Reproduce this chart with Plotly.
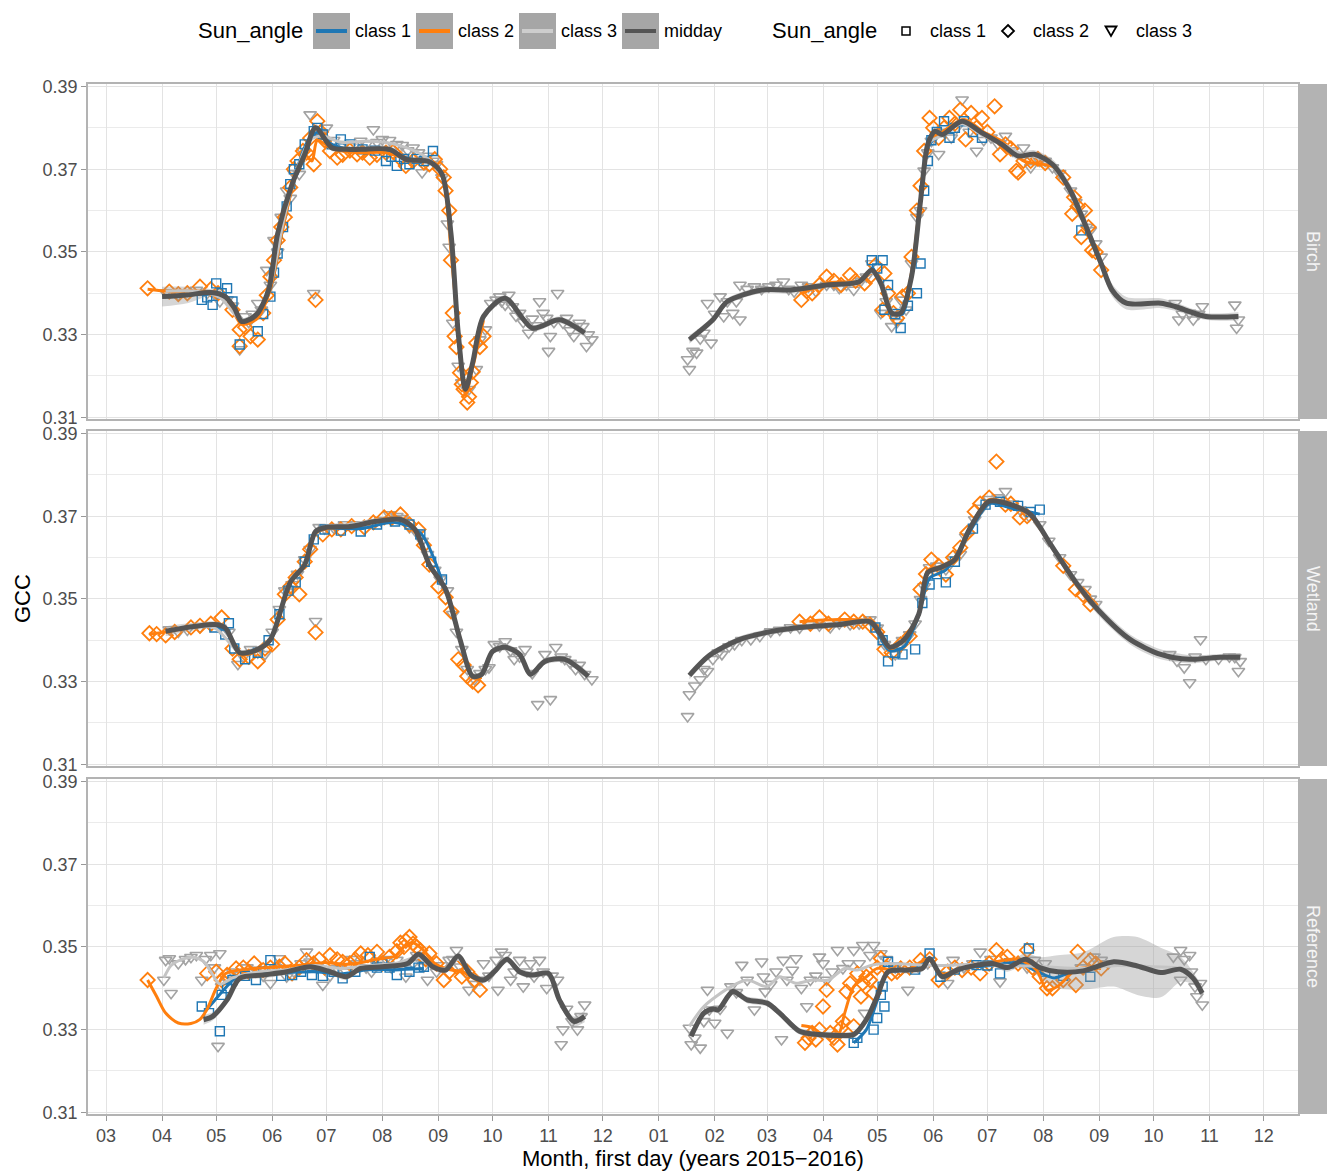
import pandas as pd
import plotly.graph_objects as go
from plotly.subplots import make_subplots

# ---------------- data (day offsets from 2015-03-01, GCC values) ----------------
BASE = "2015-03-01"
panels = ["Birch", "Wetland", "Reference"]

# ---- Birch 2015 ----
birch15_mid_d = [31, 45, 58, 66, 71, 75, 80, 84, 90, 95, 103, 110, 116, 125, 133, 141, 157, 166, 179, 186, 191, 195, 199, 203, 209, 221, 236, 251, 265]
birch15_mid_v = [0.3392, 0.3396, 0.3402, 0.3392, 0.3365, 0.3332, 0.3338, 0.3352, 0.3408, 0.3544, 0.3664, 0.3736, 0.3800, 0.3752, 0.3748, 0.3748, 0.3748, 0.3724, 0.3718, 0.3688, 0.3544, 0.3304, 0.3168, 0.3232, 0.3344, 0.3388, 0.3316, 0.3336, 0.3304]
birch15_mid_se = [0.0024, 0.0020, 0.0008, 0.0008, 0.0008, 0.0008, 0.0008, 0.0008, 0.0008, 0.0008, 0.0008, 0.0008, 0.0010, 0.0008, 0.0008, 0.0008, 0.0008, 0.0008, 0.0008, 0.0008, 0.0010, 0.0010, 0.0010, 0.0010, 0.0008, 0.0008, 0.0008, 0.0008, 0.0010]
birch15_l1_d = [53, 61, 67, 75, 84, 91, 98, 105, 112, 118, 125, 140, 155, 168, 181]
birch15_l1_v = [0.3395, 0.3400, 0.3390, 0.3335, 0.3350, 0.3410, 0.3560, 0.3690, 0.3770, 0.3790, 0.3760, 0.3745, 0.3745, 0.3725, 0.3720]
birch15_l2_d = [23, 35, 52, 66, 75, 84, 91, 98, 105, 110, 114, 117, 125, 140, 155, 170, 182, 187, 191, 195, 199, 203, 209]
birch15_l2_v = [0.3410, 0.3405, 0.3405, 0.3390, 0.3325, 0.3340, 0.3410, 0.3560, 0.3685, 0.3735, 0.3720, 0.3770, 0.3750, 0.3740, 0.3740, 0.3720, 0.3715, 0.3670, 0.3500, 0.3310, 0.3155, 0.3220, 0.3335]
birch15_l3_d = [33, 50, 63, 75, 84, 91, 98, 105, 113, 120, 130, 145, 160, 175, 186, 191, 195, 199, 203, 209, 221, 236, 251, 266]
birch15_l3_v = [0.3405, 0.3405, 0.3390, 0.3335, 0.3355, 0.3420, 0.3570, 0.3690, 0.3770, 0.3780, 0.3765, 0.3768, 0.3760, 0.3735, 0.3690, 0.3520, 0.3315, 0.3180, 0.3235, 0.3340, 0.3385, 0.3320, 0.3335, 0.3305]
birch15_p1_d = [53, 59, 61, 67, 74, 84, 91, 95, 98, 102, 107, 115, 120, 130, 142, 155, 161, 168, 181,
                56, 64, 70, 87, 93, 100, 104, 110, 117, 125, 135, 149, 158, 165, 172, 176]
birch15_p1_v = [0.3384, 0.3372, 0.3424, 0.3412, 0.3276, 0.3308, 0.3392, 0.3496, 0.3560, 0.3664, 0.3712, 0.3792, 0.3784, 0.3772, 0.3748, 0.3720, 0.3708, 0.3712, 0.3744,
                0.3390, 0.3400, 0.3380, 0.3350, 0.3450, 0.3610, 0.3700, 0.3760, 0.3800, 0.3760, 0.3760, 0.3745, 0.3730, 0.3725, 0.3725, 0.3720]
birch15_p2_d = [23, 35, 52, 74, 74, 80, 84, 87, 91, 95, 99, 102, 106, 109, 115, 116, 117, 124, 128, 139, 146, 155, 166, 176, 182, 188, 190, 191, 192, 193, 196, 198, 200, 202, 205, 209,
                40, 45, 58, 62, 70, 77, 89, 93, 97, 104, 111, 113, 119, 121, 131, 135, 142, 150, 159, 163, 170, 179, 185, 187, 194, 197, 201, 203, 207]
birch15_p2_v = [0.3412, 0.3404, 0.3416, 0.3312, 0.3272, 0.3296, 0.3288, 0.3352, 0.3440, 0.3528, 0.3584, 0.3656, 0.3720, 0.3744, 0.3712, 0.3384, 0.3816, 0.3744, 0.3728, 0.3736, 0.3728, 0.3740, 0.3708, 0.3716, 0.3724, 0.3648, 0.3600, 0.3480, 0.3352, 0.3296, 0.3208, 0.3168, 0.3136, 0.3184, 0.3280, 0.3296,
                0.3398, 0.3400, 0.3410, 0.3400, 0.3360, 0.3318, 0.3395, 0.3480, 0.3560, 0.3700, 0.3740, 0.3775, 0.3790, 0.3770, 0.3735, 0.3745, 0.3740, 0.3735, 0.3742, 0.3725, 0.3720, 0.3712, 0.3700, 0.3680, 0.3270, 0.3180, 0.3150, 0.3210, 0.3270]
birch15_p3_d = [33, 50, 63, 74, 77, 84, 89, 93, 97, 100, 107, 109, 113, 115, 122, 131, 141, 148, 153, 161, 170, 175, 181, 186, 189, 190, 192, 195, 197, 201, 205, 207, 210, 213, 216, 218, 223, 229, 234, 240, 242, 245, 246, 250, 253, 259, 262, 266, 269,
                118, 126, 135, 144, 150, 157, 164, 167, 173, 178, 183, 91, 95, 102, 104, 219, 221, 225, 227, 231, 236, 238, 244, 248, 255, 257, 264, 267, 40, 56, 60, 67, 70, 79, 81, 86]
birch15_p3_v = [0.3402, 0.3408, 0.3380, 0.3264, 0.3344, 0.3376, 0.3456, 0.3528, 0.3584, 0.3648, 0.3688, 0.3744, 0.3832, 0.3400, 0.3800, 0.3760, 0.3768, 0.3796, 0.3772, 0.3760, 0.3752, 0.3692, 0.3720, 0.3680, 0.3568, 0.3512, 0.3328, 0.3224, 0.3184, 0.3168, 0.3216, 0.3288, 0.3312, 0.3376, 0.3384, 0.3392, 0.3396, 0.3352, 0.3304, 0.3380, 0.3352, 0.3260, 0.3296, 0.3400, 0.3328, 0.3296, 0.3328, 0.3272, 0.3288,
                0.3790, 0.3770, 0.3755, 0.3760, 0.3765, 0.3770, 0.3758, 0.3745, 0.3740, 0.3732, 0.3712, 0.3420, 0.3500, 0.3630, 0.3690, 0.3380, 0.3372, 0.3368, 0.3345, 0.3330, 0.3338, 0.3322, 0.3340, 0.3330, 0.3340, 0.3310, 0.3320, 0.3300, 0.3395, 0.3400, 0.3398, 0.3385, 0.3370, 0.3330, 0.3350, 0.3360]

# ---- Birch 2016 ----
birch16_mid_d = [323, 336, 344, 363, 379, 399, 417, 424, 429, 435, 440, 446, 451, 455, 459, 463, 474, 485, 496, 505, 514, 524, 534, 542, 551, 557, 565, 584, 592, 609, 627]
birch16_mid_v = [0.3288, 0.3336, 0.3380, 0.3408, 0.3408, 0.3420, 0.3428, 0.3456, 0.3424, 0.3352, 0.3352, 0.3440, 0.3624, 0.3760, 0.3792, 0.3784, 0.3816, 0.3788, 0.3760, 0.3732, 0.3736, 0.3712, 0.3648, 0.3568, 0.3472, 0.3408, 0.3376, 0.3376, 0.3368, 0.3344, 0.3344]
birch16_mid_se = [0.0010, 0.0008, 0.0008, 0.0008, 0.0008, 0.0008, 0.0008, 0.0008, 0.0008, 0.0008, 0.0008, 0.0008, 0.0008, 0.0008, 0.0008, 0.0008, 0.0008, 0.0008, 0.0008, 0.0010, 0.0010, 0.0012, 0.0015, 0.0015, 0.0015, 0.0015, 0.0015, 0.0012, 0.0010, 0.0008, 0.0010]
birch16_l1_d = [424, 430, 436, 441, 446, 451, 456, 464, 475, 485]
birch16_l1_v = [0.3465, 0.3420, 0.3350, 0.3350, 0.3440, 0.3620, 0.3760, 0.3790, 0.3810, 0.3790]
birch16_l2_d = [385, 400, 417, 425, 430, 436, 441, 446, 451, 456, 463, 475, 486, 497, 508, 525, 535, 543, 551]
birch16_l2_v = [0.3400, 0.3425, 0.3430, 0.3450, 0.3420, 0.3350, 0.3360, 0.3450, 0.3630, 0.3770, 0.3790, 0.3820, 0.3790, 0.3765, 0.3720, 0.3705, 0.3640, 0.3560, 0.3470]
birch16_l3_d = [323, 336, 344, 363, 380, 400, 417, 424, 430, 436, 441, 446, 451, 456, 462, 474, 486, 497, 508, 515, 525, 535, 543, 551, 558, 566, 585, 593, 610, 627]
birch16_l3_v = [0.3285, 0.3335, 0.3380, 0.3405, 0.3410, 0.3420, 0.3430, 0.3450, 0.3420, 0.3350, 0.3360, 0.3440, 0.3620, 0.3765, 0.3780, 0.3810, 0.3780, 0.3760, 0.3735, 0.3730, 0.3710, 0.3645, 0.3565, 0.3470, 0.3405, 0.3375, 0.3375, 0.3365, 0.3345, 0.3345]
birch16_p1_d = [424, 430, 431, 440, 449, 451, 453, 455, 464, 467, 475, 485, 540,
                427, 433, 437, 444, 457, 460, 470, 480]
birch16_p1_v = [0.3480, 0.3480, 0.3360, 0.3316, 0.3400, 0.3472, 0.3648, 0.3720, 0.3816, 0.3776, 0.3816, 0.3776, 0.3552,
                0.3460, 0.3420, 0.3350, 0.3370, 0.3770, 0.3790, 0.3800, 0.3790]
birch16_p2_d = [385, 391, 399, 412, 420, 426, 431, 430, 436, 441, 446, 449, 453, 456, 461, 467, 473, 476, 479, 485, 492, 495, 504, 505, 512, 536, 535, 540, 542, 546, 551,
                388, 395, 403, 407, 415, 423, 433, 438, 444, 451, 458, 464, 470, 482, 488, 498, 501, 508, 516, 520, 530, 538, 544, 548]
birch16_p2_v = [0.3384, 0.3400, 0.3440, 0.3444, 0.3424, 0.3468, 0.3448, 0.3360, 0.3352, 0.3392, 0.3488, 0.3600, 0.3744, 0.3824, 0.3776, 0.3824, 0.3844, 0.3772, 0.3836, 0.3824, 0.3852, 0.3736, 0.3696, 0.3692, 0.3720, 0.3632, 0.3592, 0.3536, 0.3600, 0.3504, 0.3456,
                0.3405, 0.3420, 0.3430, 0.3420, 0.3430, 0.3440, 0.3400, 0.3340, 0.3400, 0.3660, 0.3800, 0.3800, 0.3810, 0.3800, 0.3790, 0.3760, 0.3750, 0.3720, 0.3725, 0.3715, 0.3680, 0.3610, 0.3560, 0.3500]
birch16_p3_d = [322, 323, 327, 331, 333, 335, 340, 342, 347, 351, 351, 359, 367, 375, 381, 389, 399, 406, 414, 424, 429, 435, 440, 446, 449, 453, 457, 461, 468, 474, 482, 490, 498, 508, 512, 517, 524, 534, 540, 545, 551, 592, 594, 600, 602, 607, 625, 626, 627,
                325, 329, 337, 344, 349, 355, 363, 371, 378, 385, 393, 403, 410, 418, 421, 432, 438, 443, 451, 455, 464, 471, 478, 486, 494, 502, 520, 528, 537, 543, 548, 596, 605]
birch16_p3_v = [0.3240, 0.3216, 0.3256, 0.3304, 0.3376, 0.3280, 0.3392, 0.3344, 0.3352, 0.3420, 0.3336, 0.3416, 0.3416, 0.3428, 0.3404, 0.3416, 0.3420, 0.3412, 0.3408, 0.3472, 0.3352, 0.3320, 0.3384, 0.3472, 0.3584, 0.3696, 0.3768, 0.3736, 0.3776, 0.3868, 0.3744, 0.3776, 0.3780, 0.3752, 0.3704, 0.3720, 0.3704, 0.3648, 0.3592, 0.3552, 0.3488, 0.3376, 0.3336, 0.3352, 0.3336, 0.3368, 0.3372, 0.3316, 0.3336,
                0.3260, 0.3290, 0.3350, 0.3380, 0.3380, 0.3410, 0.3410, 0.3420, 0.3410, 0.3420, 0.3405, 0.3420, 0.3420, 0.3430, 0.3440, 0.3380, 0.3330, 0.3360, 0.3600, 0.3740, 0.3790, 0.3800, 0.3790, 0.3770, 0.3760, 0.3745, 0.3720, 0.3690, 0.3620, 0.3560, 0.3520, 0.3350, 0.3350]

# ---- Wetland 2015 ----
wet15_mid_d = [33, 60, 66, 74, 84, 91, 102, 110, 116, 122, 135, 149, 163, 171, 179, 188, 196, 203, 208, 214, 221, 229, 235, 243, 254, 267]
wet15_mid_v = [0.3422, 0.3438, 0.3430, 0.3370, 0.3378, 0.3402, 0.3540, 0.3583, 0.3663, 0.3673, 0.3675, 0.3687, 0.3692, 0.3668, 0.3583, 0.3523, 0.3402, 0.3313, 0.3318, 0.3373, 0.3383, 0.3366, 0.3318, 0.3349, 0.3354, 0.3313]
wet15_mid_se = [0.0012, 0.0008, 0.0008, 0.0008, 0.0008, 0.0008, 0.0008, 0.0008, 0.0008, 0.0008, 0.0008, 0.0008, 0.0008, 0.0008, 0.0008, 0.0008, 0.0008, 0.0008, 0.0008, 0.0008, 0.0008, 0.0008, 0.0008, 0.0008, 0.0008, 0.0010]
wet15_l1_d = [60, 66, 74, 84, 91, 102, 110, 116, 122, 141, 160, 174, 186]
wet15_l1_v = [0.3430, 0.3425, 0.3370, 0.3380, 0.3400, 0.3540, 0.3580, 0.3660, 0.3670, 0.3670, 0.3685, 0.3660, 0.3545]
wet15_l2_d = [24, 33, 60, 66, 74, 84, 91, 102, 110, 116, 122, 135, 149, 163, 171, 179, 188, 196, 203, 208]
wet15_l2_v = [0.3415, 0.3420, 0.3440, 0.3430, 0.3365, 0.3375, 0.3400, 0.3540, 0.3580, 0.3660, 0.3670, 0.3675, 0.3690, 0.3695, 0.3670, 0.3580, 0.3520, 0.3405, 0.3310, 0.3310]
wet15_l3_d = [35, 60, 74, 84, 91, 102, 110, 116, 122, 135, 149, 163, 171, 179, 188, 196, 203, 208, 214, 221, 229, 235, 243, 254, 267]
wet15_l3_v = [0.3425, 0.3430, 0.3370, 0.3380, 0.3405, 0.3545, 0.3585, 0.3660, 0.3675, 0.3680, 0.3690, 0.3690, 0.3668, 0.3585, 0.3520, 0.3400, 0.3315, 0.3320, 0.3375, 0.3380, 0.3365, 0.3320, 0.3350, 0.3355, 0.3315]
wet15_p1_d = [60, 66, 68, 77, 96, 105, 115, 121, 141, 160, 174, 186,
              71, 84, 90, 101, 110, 130, 150, 168, 180]
wet15_p1_v = [0.3431, 0.3414, 0.3441, 0.3354, 0.3463, 0.3540, 0.3644, 0.3668, 0.3663, 0.3687, 0.3656, 0.3547,
              0.3380, 0.3370, 0.3400, 0.3520, 0.3590, 0.3665, 0.3680, 0.3680, 0.3590]
wet15_p2_d = [24, 33, 47, 64, 74, 84, 92, 99, 105, 107, 116, 120, 130, 143, 154, 163, 173, 179, 188, 195, 200, 206,
              28, 38, 52, 58, 70, 79, 88, 95, 102, 110, 113, 125, 136, 148, 158, 168, 176, 184, 191, 198, 203]
wet15_p2_v = [0.3417, 0.3412, 0.3431, 0.3455, 0.3354, 0.3349, 0.3390, 0.3511, 0.3552, 0.3511, 0.3419, 0.3656, 0.3668, 0.3673, 0.3697, 0.3704, 0.3668, 0.3583, 0.3504, 0.3354, 0.3313, 0.3291,
              0.3415, 0.3420, 0.3435, 0.3440, 0.3380, 0.3360, 0.3380, 0.3450, 0.3530, 0.3590, 0.3620, 0.3668, 0.3676, 0.3685, 0.3695, 0.3680, 0.3630, 0.3530, 0.3470, 0.3340, 0.3300]
wet15_p3_d = [35, 52, 73, 80, 88, 96, 103, 110, 116, 118, 132, 146, 157, 168, 178, 185, 192, 197, 204, 212, 215, 221, 226, 232, 239, 243, 246, 249, 254, 260, 265, 269,
              40, 45, 58, 63, 68, 76, 84, 92, 99, 106, 113, 121, 126, 139, 152, 161, 164, 172, 175, 182, 189, 194, 200, 207, 210, 218, 224, 229, 236, 252, 257, 262]
wet15_p3_v = [0.3426, 0.3431, 0.3342, 0.3378, 0.3366, 0.3475, 0.3535, 0.3595, 0.3446, 0.3673, 0.3680, 0.3682, 0.3704, 0.3673, 0.3608, 0.3547, 0.3463, 0.3378, 0.3305, 0.3334, 0.3390, 0.3397, 0.3354, 0.3378, 0.3245, 0.3366, 0.3257, 0.3383, 0.3354, 0.3330, 0.3318, 0.3305,
              0.3420, 0.3425, 0.3435, 0.3430, 0.3420, 0.3360, 0.3370, 0.3420, 0.3520, 0.3560, 0.3620, 0.3670, 0.3672, 0.3680, 0.3690, 0.3700, 0.3695, 0.3660, 0.3640, 0.3570, 0.3520, 0.3420, 0.3330, 0.3320, 0.3330, 0.3385, 0.3375, 0.3360, 0.3320, 0.3360, 0.3345, 0.3340]

# ---- Wetland 2016 ----
wet16_mid_d = [323, 334, 351, 368, 384, 406, 423, 429, 434, 442, 450, 455, 462, 470, 478, 489, 501, 512, 523, 537, 550, 567, 584, 600, 617, 628]
wet16_mid_v = [0.3315, 0.3363, 0.3402, 0.3421, 0.3431, 0.3438, 0.3445, 0.3414, 0.3383, 0.3402, 0.3463, 0.3564, 0.3576, 0.3595, 0.3668, 0.3736, 0.3728, 0.3704, 0.3632, 0.3540, 0.3470, 0.3402, 0.3366, 0.3354, 0.3359, 0.3359]
wet16_mid_se = [0.0010, 0.0008, 0.0008, 0.0008, 0.0008, 0.0008, 0.0008, 0.0008, 0.0008, 0.0008, 0.0008, 0.0008, 0.0008, 0.0008, 0.0008, 0.0008, 0.0008, 0.0008, 0.0010, 0.0012, 0.0012, 0.0012, 0.0012, 0.0010, 0.0008, 0.0010]
wet16_l1_d = [426, 434, 442, 450, 456, 465, 478, 489, 501, 517]
wet16_l1_v = [0.3430, 0.3375, 0.3385, 0.3460, 0.3550, 0.3570, 0.3660, 0.3730, 0.3720, 0.3705]
wet16_l2_d = [384, 406, 423, 429, 434, 442, 450, 455, 462, 470, 478, 489, 501, 512, 523, 537, 545]
wet16_l2_v = [0.3445, 0.3450, 0.3445, 0.3410, 0.3380, 0.3400, 0.3465, 0.3570, 0.3578, 0.3600, 0.3670, 0.3740, 0.3728, 0.3700, 0.3630, 0.3535, 0.3490]
wet16_l3_d = [323, 334, 351, 368, 384, 406, 423, 429, 434, 442, 450, 455, 462, 470, 478, 489, 501, 512, 523, 537, 550, 567, 584, 600, 617, 628]
wet16_l3_v = [0.3315, 0.3362, 0.3400, 0.3420, 0.3430, 0.3438, 0.3445, 0.3414, 0.3385, 0.3402, 0.3463, 0.3562, 0.3575, 0.3595, 0.3668, 0.3735, 0.3728, 0.3705, 0.3633, 0.3540, 0.3470, 0.3400, 0.3366, 0.3354, 0.3359, 0.3359]
wet16_p1_d = [426, 433, 441, 448, 456, 465, 487, 517,
              430, 437, 452, 460, 470, 480, 495, 505, 512]
wet16_p1_v = [0.3431, 0.3349, 0.3366, 0.3378, 0.3535, 0.3540, 0.3728, 0.3716,
              0.3400, 0.3370, 0.3490, 0.3560, 0.3590, 0.3670, 0.3735, 0.3725, 0.3710]
wet16_p2_d = [384, 395, 409, 423, 431, 440, 451, 457, 465, 473, 481, 489, 493, 498, 506, 537, 545,
              390, 400, 414, 419, 427, 435, 445, 454, 461, 469, 477, 484, 501, 510, 530, 541]
wet16_p2_v = [0.3445, 0.3455, 0.3450, 0.3438, 0.3378, 0.3390, 0.3523, 0.3595, 0.3559, 0.3624, 0.3711, 0.3745, 0.3832, 0.3728, 0.3697, 0.3523, 0.3487,
              0.3440, 0.3440, 0.3445, 0.3445, 0.3420, 0.3370, 0.3410, 0.3560, 0.3580, 0.3600, 0.3660, 0.3730, 0.3730, 0.3700, 0.3580, 0.3510]
wet16_p3_d = [322, 323, 329, 333, 336, 341, 348, 357, 368, 379, 390, 401, 412, 423, 431, 437, 445, 451, 456, 465, 473, 481, 489, 498, 506, 517, 534, 542, 548, 589, 597, 600, 606, 609, 625, 627, 628,
              326, 331, 339, 345, 352, 362, 373, 384, 395, 406, 417, 427, 434, 441, 448, 453, 460, 469, 476, 485, 494, 502, 511, 522, 528, 538, 545, 593, 603, 616, 622]
wet16_p3_v = [0.3216, 0.3269, 0.3305, 0.3325, 0.3354, 0.3366, 0.3390, 0.3402, 0.3421, 0.3431, 0.3438, 0.3431, 0.3438, 0.3450, 0.3390, 0.3366, 0.3414, 0.3499, 0.3576, 0.3571, 0.3608, 0.3692, 0.3741, 0.3760, 0.3716, 0.3680, 0.3559, 0.3523, 0.3487, 0.3366, 0.3334, 0.3298, 0.3402, 0.3354, 0.3359, 0.3325, 0.3349,
              0.3290, 0.3330, 0.3370, 0.3385, 0.3400, 0.3410, 0.3425, 0.3430, 0.3435, 0.3440, 0.3440, 0.3430, 0.3380, 0.3400, 0.3440, 0.3530, 0.3580, 0.3595, 0.3650, 0.3720, 0.3745, 0.3730, 0.3700, 0.3640, 0.3600, 0.3540, 0.3500, 0.3350, 0.3360, 0.3355, 0.3360]

# ---- Reference 2015 ----
ref15_mid_d = [54, 59, 67, 74, 87, 100, 113, 124, 133, 141, 153, 167, 173, 181, 188, 195, 202, 209, 215, 222, 229, 236, 245, 251, 259, 265]
ref15_mid_v = [0.3324, 0.3332, 0.3372, 0.3424, 0.3432, 0.3440, 0.3452, 0.3440, 0.3428, 0.3448, 0.3452, 0.3460, 0.3482, 0.3452, 0.3444, 0.3478, 0.3432, 0.3420, 0.3440, 0.3470, 0.3440, 0.3432, 0.3436, 0.3372, 0.3320, 0.3332]
ref15_mid_se = [0.0012, 0.0010, 0.0008, 0.0008, 0.0008, 0.0008, 0.0008, 0.0008, 0.0008, 0.0008, 0.0008, 0.0008, 0.0008, 0.0008, 0.0008, 0.0008, 0.0008, 0.0008, 0.0008, 0.0008, 0.0008, 0.0008, 0.0008, 0.0010, 0.0012, 0.0014]
ref15_l1_d = [55, 60, 66, 72, 85, 100, 115, 130, 145, 160, 176]
ref15_l1_v = [0.3345, 0.3370, 0.3400, 0.3425, 0.3435, 0.3438, 0.3440, 0.3435, 0.3445, 0.3445, 0.3448]
ref15_l2_d = [23, 28, 33, 40, 47, 52, 56, 61, 66, 75, 90, 105, 120, 135, 150, 160, 166, 170, 175, 182, 190, 197, 207]
ref15_l2_v = [0.3420, 0.3380, 0.3340, 0.3316, 0.3315, 0.3325, 0.3350, 0.3400, 0.3435, 0.3445, 0.3450, 0.3455, 0.3462, 0.3458, 0.3470, 0.3478, 0.3505, 0.3510, 0.3495, 0.3460, 0.3445, 0.3440, 0.3415]
ref15_l3_d = [32, 36, 42, 48, 54, 58, 63, 70, 85, 100, 115, 130, 145, 160, 173, 181, 188, 195, 202, 209, 215, 222, 229, 236, 245, 251, 259, 265]
ref15_l3_v = [0.3425, 0.3455, 0.3470, 0.3475, 0.3465, 0.3440, 0.3410, 0.3425, 0.3440, 0.3445, 0.3455, 0.3448, 0.3455, 0.3460, 0.3475, 0.3450, 0.3448, 0.3470, 0.3435, 0.3420, 0.3445, 0.3470, 0.3445, 0.3435, 0.3438, 0.3375, 0.3320, 0.3330]
ref15_p1_d = [53, 63, 64, 70, 83, 91, 103, 114, 131, 146, 153, 161, 176,
              57, 67, 77, 87, 97, 108, 120, 126, 138, 150, 157, 168, 173]
ref15_p1_v = [0.3356, 0.3296, 0.3384, 0.3420, 0.3420, 0.3468, 0.3432, 0.3432, 0.3424, 0.3476, 0.3460, 0.3432, 0.3452,
              0.3340, 0.3400, 0.3430, 0.3440, 0.3430, 0.3440, 0.3430, 0.3440, 0.3440, 0.3450, 0.3450, 0.3440, 0.3450]
ref15_p2_d = [23, 56, 67, 72, 82, 87, 96, 103, 111, 124, 131, 141, 150, 157, 165, 168, 170, 174, 179, 187, 194, 197, 207,
              61, 64, 76, 79, 91, 99, 107, 115, 118, 121, 128, 135, 138, 145, 153, 161, 163, 166, 172, 177, 183, 190, 200, 204]
ref15_p2_v = [0.3420, 0.3436, 0.3432, 0.3448, 0.3460, 0.3444, 0.3452, 0.3436, 0.3468, 0.3480, 0.3464, 0.3484, 0.3488, 0.3476, 0.3500, 0.3524, 0.3508, 0.3492, 0.3484, 0.3420, 0.3452, 0.3428, 0.3396,
              0.3440, 0.3420, 0.3450, 0.3440, 0.3450, 0.3460, 0.3450, 0.3460, 0.3470, 0.3450, 0.3470, 0.3460, 0.3470, 0.3480, 0.3460, 0.3490, 0.3510, 0.3515, 0.3500, 0.3470, 0.3460, 0.3440, 0.3440, 0.3420]
ref15_p3_d = [32, 33, 35, 36, 50, 53, 58, 62, 63, 64, 74, 83, 91, 96, 100, 111, 113, 120, 128, 139, 150, 161, 166, 176, 178, 190, 194, 196, 201, 207, 209, 216, 217, 219, 224, 229, 231, 237, 240, 244, 250, 252, 253, 263, 265,
              40, 44, 47, 55, 60, 67, 70, 78, 87, 94, 104, 108, 117, 124, 133, 136, 144, 147, 155, 158, 170, 172, 183, 186, 192, 199, 204, 212, 221, 226, 233, 235, 242, 247, 255, 258, 261]
ref15_p3_v = [0.3420, 0.3468, 0.3472, 0.3388, 0.3480, 0.3420, 0.3480, 0.3260, 0.3484, 0.3404, 0.3432, 0.3444, 0.3412, 0.3472, 0.3428, 0.3488, 0.3464, 0.3408, 0.3448, 0.3460, 0.3456, 0.3468, 0.3428, 0.3452, 0.3420, 0.3468, 0.3492, 0.3452, 0.3396, 0.3420, 0.3460, 0.3468, 0.3396, 0.3488, 0.3420, 0.3468, 0.3404, 0.3428, 0.3468, 0.3400, 0.3420, 0.3264, 0.3300, 0.3332, 0.3360,
              0.3460, 0.3470, 0.3475, 0.3470, 0.3450, 0.3420, 0.3440, 0.3450, 0.3430, 0.3450, 0.3440, 0.3460, 0.3450, 0.3430, 0.3440, 0.3470, 0.3450, 0.3440, 0.3470, 0.3450, 0.3460, 0.3480, 0.3440, 0.3455, 0.3470, 0.3440, 0.3410, 0.3430, 0.3480, 0.3440, 0.3440, 0.3460, 0.3440, 0.3430, 0.3350, 0.3320, 0.3300]

# ---- Reference 2016 ----
ref16_mid_d = [324, 331, 336, 339, 347, 355, 366, 373, 384, 395, 406, 414, 421, 427, 433, 444, 452, 456, 463, 471, 482, 491, 499, 509, 517, 527, 541, 558, 571, 584, 595, 602, 607]
ref16_mid_v = [0.3284, 0.3340, 0.3350, 0.3348, 0.3392, 0.3372, 0.3364, 0.3340, 0.3296, 0.3288, 0.3286, 0.3288, 0.3324, 0.3380, 0.3440, 0.3444, 0.3448, 0.3472, 0.3428, 0.3444, 0.3456, 0.3460, 0.3450, 0.3470, 0.3450, 0.3440, 0.3442, 0.3464, 0.3454, 0.3438, 0.3446, 0.3424, 0.3388]
ref16_mid_se = [0.0010, 0.0008, 0.0008, 0.0008, 0.0008, 0.0008, 0.0008, 0.0008, 0.0008, 0.0008, 0.0008, 0.0008, 0.0008, 0.0008, 0.0008, 0.0008, 0.0008, 0.0008, 0.0008, 0.0008, 0.0008, 0.0008, 0.0010, 0.0015, 0.0025, 0.0040, 0.0045, 0.0060, 0.0070, 0.0060, 0.0030, 0.0015, 0.0015]
ref16_l1_d = [414, 421, 427, 433, 445, 456, 463, 475, 490, 505, 515, 525, 535, 545]
ref16_l1_v = [0.3268, 0.3300, 0.3370, 0.3440, 0.3445, 0.3468, 0.3430, 0.3448, 0.3455, 0.3462, 0.3442, 0.3425, 0.3440, 0.3445]
ref16_l2_d = [385, 391, 396, 400, 405, 409, 414, 421, 427, 435, 445, 455, 463, 475, 490, 505, 515, 521, 527, 537, 545, 551]
ref16_l2_v = [0.3310, 0.3305, 0.3290, 0.3285, 0.3282, 0.3340, 0.3404, 0.3428, 0.3448, 0.3445, 0.3448, 0.3470, 0.3435, 0.3450, 0.3462, 0.3470, 0.3445, 0.3396, 0.3405, 0.3445, 0.3450, 0.3448]
ref16_l3_d = [323, 331, 346, 355, 366, 373, 382, 391, 400, 409, 416, 424, 432, 460, 480, 500, 520, 540, 560, 580, 595, 602, 607]
ref16_l3_v = [0.3308, 0.3356, 0.3404, 0.3420, 0.3404, 0.3428, 0.3412, 0.3420, 0.3420, 0.3448, 0.3444, 0.3456, 0.3460, 0.3455, 0.3458, 0.3455, 0.3452, 0.3448, 0.3455, 0.3452, 0.3448, 0.3425, 0.3392]
ref16_p1_d = [414, 427, 429, 430, 431, 433, 456, 462, 482, 495, 511, 545,
              416, 425, 436, 448, 470, 488, 500, 520, 530]
ref16_p1_v = [0.3268, 0.3328, 0.3384, 0.3404, 0.3356, 0.3464, 0.3484, 0.3428, 0.3456, 0.3436, 0.3496, 0.3428,
              0.3280, 0.3300, 0.3450, 0.3445, 0.3445, 0.3455, 0.3460, 0.3440, 0.3430]
ref16_p2_d = [387, 391, 393, 397, 399, 401, 405, 407, 410, 412, 414, 416, 419, 421, 425, 429, 435, 440, 451, 461, 474, 484, 493, 499, 510, 517, 521, 538, 537, 545, 551,
              389, 395, 403, 408, 418, 423, 427, 432, 438, 445, 456, 466, 470, 479, 489, 496, 505, 513, 524, 530, 541, 548]
ref16_p2_v = [0.3268, 0.3292, 0.3276, 0.3356, 0.3396, 0.3292, 0.3264, 0.3304, 0.3392, 0.3412, 0.3308, 0.3436, 0.3412, 0.3428, 0.3388, 0.3472, 0.3436, 0.3448, 0.3468, 0.3420, 0.3444, 0.3436, 0.3492, 0.3476, 0.3492, 0.3428, 0.3400, 0.3488, 0.3408, 0.3468, 0.3448,
              0.3280, 0.3300, 0.3280, 0.3320, 0.3380, 0.3420, 0.3450, 0.3450, 0.3440, 0.3450, 0.3470, 0.3440, 0.3450, 0.3450, 0.3460, 0.3470, 0.3460, 0.3450, 0.3400, 0.3420, 0.3450, 0.3460]
ref16_p3_d = [323, 324, 329, 333, 334, 337, 344, 346, 352, 359, 363, 364, 365, 374, 375, 380, 382, 388, 390, 395, 397, 399, 405, 408, 414, 419, 420, 425, 429, 444, 466, 469, 484, 495, 506, 514, 547, 551, 591, 595, 595, 600, 601, 603, 606, 607,
              326, 331, 340, 349, 355, 368, 371, 377, 385, 393, 402, 411, 417, 423, 432, 437, 450, 455, 475, 480, 490, 500, 510, 520, 540, 555, 597, 604]
ref16_p3_v = [0.3304, 0.3264, 0.3256, 0.3396, 0.3348, 0.3316, 0.3292, 0.3404, 0.3456, 0.3348, 0.3464, 0.3428, 0.3392, 0.3276, 0.3468, 0.3444, 0.3472, 0.3356, 0.3420, 0.3476, 0.3460, 0.3420, 0.3492, 0.3448, 0.3492, 0.3504, 0.3340, 0.3504, 0.3484, 0.3396, 0.3412, 0.3468, 0.3488, 0.3416, 0.3464, 0.3468, 0.3476, 0.3468, 0.3476, 0.3492, 0.3420, 0.3480, 0.3440, 0.3404, 0.3412, 0.3360,
              0.3280, 0.3320, 0.3350, 0.3390, 0.3420, 0.3410, 0.3440, 0.3420, 0.3400, 0.3430, 0.3440, 0.3460, 0.3460, 0.3480, 0.3470, 0.3450, 0.3450, 0.3460, 0.3450, 0.3460, 0.3470, 0.3460, 0.3450, 0.3460, 0.3450, 0.3460, 0.3470, 0.3380]

# ---------------- table built from the arrays ----------------
SEGMENTS = [
    (1, (birch15_mid_d, birch15_mid_v, birch15_mid_se),
     {1: (birch15_l1_d, birch15_l1_v), 2: (birch15_l2_d, birch15_l2_v), 3: (birch15_l3_d, birch15_l3_v)},
     {1: (birch15_p1_d, birch15_p1_v), 2: (birch15_p2_d, birch15_p2_v), 3: (birch15_p3_d, birch15_p3_v)}),
    (1, (birch16_mid_d, birch16_mid_v, birch16_mid_se),
     {1: (birch16_l1_d, birch16_l1_v), 2: (birch16_l2_d, birch16_l2_v), 3: (birch16_l3_d, birch16_l3_v)},
     {1: (birch16_p1_d, birch16_p1_v), 2: (birch16_p2_d, birch16_p2_v), 3: (birch16_p3_d, birch16_p3_v)}),
    (2, (wet15_mid_d, wet15_mid_v, wet15_mid_se),
     {1: (wet15_l1_d, wet15_l1_v), 2: (wet15_l2_d, wet15_l2_v), 3: (wet15_l3_d, wet15_l3_v)},
     {1: (wet15_p1_d, wet15_p1_v), 2: (wet15_p2_d, wet15_p2_v), 3: (wet15_p3_d, wet15_p3_v)}),
    (2, (wet16_mid_d, wet16_mid_v, wet16_mid_se),
     {1: (wet16_l1_d, wet16_l1_v), 2: (wet16_l2_d, wet16_l2_v), 3: (wet16_l3_d, wet16_l3_v)},
     {1: (wet16_p1_d, wet16_p1_v), 2: (wet16_p2_d, wet16_p2_v), 3: (wet16_p3_d, wet16_p3_v)}),
    (3, (ref15_mid_d, ref15_mid_v, ref15_mid_se),
     {1: (ref15_l1_d, ref15_l1_v), 2: (ref15_l2_d, ref15_l2_v), 3: (ref15_l3_d, ref15_l3_v)},
     {1: (ref15_p1_d, ref15_p1_v), 2: (ref15_p2_d, ref15_p2_v), 3: (ref15_p3_d, ref15_p3_v)}),
    (3, (ref16_mid_d, ref16_mid_v, ref16_mid_se),
     {1: (ref16_l1_d, ref16_l1_v), 2: (ref16_l2_d, ref16_l2_v), 3: (ref16_l3_d, ref16_l3_v)},
     {1: (ref16_p1_d, ref16_p1_v), 2: (ref16_p2_d, ref16_p2_v), 3: (ref16_p3_d, ref16_p3_v)}),
]

base = pd.Timestamp(BASE)


def to_dates(days):
    return [(base + pd.Timedelta(days=int(d))).strftime("%Y-%m-%d") for d in days]


# ---------------- styles ----------------
FONT = "Liberation Sans, Arial, sans-serif"
LINE_COL = {1: "#1F77B4", 2: "#FF7F0E", 3: "#C4C4C4"}
PT_COL = {1: "#1F77B4", 2: "#FF7F0E", 3: "#A3A3A3"}
SYMBOL = {1: "square-open", 2: "diamond-open", 3: "triangle-down-open"}
PT_SIZE = {1: 9, 2: 11, 3: 11}
PT_LW = {1: 1.4, 2: 1.8, 3: 1.6}
MID_COL = "#555555"
RIBBON = "rgba(153,153,153,0.40)"

fig = make_subplots(rows=3, cols=1, shared_xaxes=True, vertical_spacing=0.01)

for row, mid, lines, pts in SEGMENTS:
    for cls in (3, 2, 1):
        d, v = pts[cls]
        fig.add_trace(go.Scatter(x=to_dates(d), y=v, mode="markers",
                                 marker=dict(symbol=SYMBOL[cls], size=PT_SIZE[cls], color=PT_COL[cls],
                                             line=dict(width=PT_LW[cls], color=PT_COL[cls])),
                                 showlegend=False, hoverinfo="skip"), row=row, col=1)
    md, mv, mse = mid
    upper = [a + b for a, b in zip(mv, mse)]
    lower = [a - b for a, b in zip(mv, mse)]
    fig.add_trace(go.Scatter(x=to_dates(md), y=upper, mode="lines",
                             line=dict(width=0, shape="spline", smoothing=0.8),
                             showlegend=False, hoverinfo="skip"), row=row, col=1)
    fig.add_trace(go.Scatter(x=to_dates(md), y=lower, mode="lines", fill="tonexty", fillcolor=RIBBON,
                             line=dict(width=0, shape="spline", smoothing=0.8),
                             showlegend=False, hoverinfo="skip"), row=row, col=1)
    for cls in (1, 2, 3):
        d, v = lines[cls]
        fig.add_trace(go.Scatter(x=to_dates(d), y=v, mode="lines",
                                 line=dict(color=LINE_COL[cls], width=3, shape="spline", smoothing=0.8),
                                 showlegend=False, hoverinfo="skip"), row=row, col=1)
    fig.add_trace(go.Scatter(x=to_dates(md), y=mv, mode="lines",
                             line=dict(color=MID_COL, width=5, shape="spline", smoothing=0.8),
                             showlegend=False, hoverinfo="skip"), row=row, col=1)

# ---------------- layout ----------------
W, H = 1327, 1172
L, R, T, B = 88, 0, 84, 58
PW, PH = W - L - R, H - T - B


def px(x):
    return (x - L) / PW


def py(y):
    return (H - B - y) / PH


X_END = px(1298)
DOMAINS = {1: [py(419), py(84)], 2: [py(766), py(431)], 3: [py(1114), py(779)]}
GRID = "#E3E3E3"
BORDER = "#B3B3B3"
TICKC = "#4D4D4D"

for r in (1, 2, 3):
    fig.update_yaxes(domain=DOMAINS[r], range=[0.3096, 0.3906], tick0=0.31, dtick=0.02, tickformat=".2f",
                     showgrid=True, gridcolor=GRID, gridwidth=1, zeroline=False,
                     minor=dict(dtick=0.01, tick0=0.31, showgrid=True, gridcolor="#EBEBEB", gridwidth=1),
                     showline=True, linecolor=BORDER, linewidth=1.5, mirror=True,
                     ticks="outside", ticklen=5, tickcolor="#999999", tickwidth=1,
                     tickfont=dict(family=FONT, size=18, color=TICKC), row=r, col=1)
    fig.update_xaxes(domain=[0, X_END], type="date", range=["2015-02-19", "2016-12-20"],
                     tick0="2015-03-01", dtick="M1", tickformat="%m",
                     showgrid=True, gridcolor=GRID, gridwidth=1, zeroline=False,
                     showline=True, linecolor=BORDER, linewidth=1.5, mirror=True,
                     ticks="outside" if r == 3 else "", ticklen=5, tickcolor="#999999",
                     showticklabels=(r == 3),
                     tickfont=dict(family=FONT, size=18, color=TICKC), row=r, col=1)

shapes = []
annotations = []

for r, name in zip((1, 2, 3), panels):
    y0, y1 = DOMAINS[r]
    shapes.append(dict(type="rect", xref="paper", yref="paper", x0=px(1300), x1=1.0, y0=y0, y1=y1,
                       fillcolor="#B3B3B3", line=dict(width=0), layer="below"))
    annotations.append(dict(xref="paper", yref="paper", x=px(1313.5), y=(y0 + y1) / 2, text=name,
                            textangle=90, showarrow=False, xanchor="center", yanchor="middle",
                            font=dict(family=FONT, size=18, color="#F5F5F5")))

annotations.append(dict(xref="paper", yref="paper", x=px(693), y=py(1158), text="Month, first day (years 2015\u22122016)",
                        showarrow=False, xanchor="center", yanchor="middle",
                        font=dict(family=FONT, size=22, color="#000000")))
annotations.append(dict(xref="paper", yref="paper", x=px(22), y=py(599), text="GCC", textangle=-90,
                        showarrow=False, xanchor="center", yanchor="middle",
                        font=dict(family=FONT, size=22, color="#000000")))

LEG_Y = 31
annotations.append(dict(xref="paper", yref="paper", x=px(196), y=py(LEG_Y), text="Sun_angle", showarrow=False,
                        xanchor="left", yanchor="middle", font=dict(family=FONT, size=22, color="#000000")))
leg1 = [(313, LINE_COL[1], "class 1"), (416, LINE_COL[2], "class 2"), (519, "#CDCDCD", "class 3"), (622, MID_COL, "midday")]
for x0, col, lab in leg1:
    shapes.append(dict(type="rect", xref="paper", yref="paper", x0=px(x0), x1=px(x0 + 37), y0=py(49), y1=py(13),
                       fillcolor="#A6A6A6", line=dict(width=0)))
    shapes.append(dict(type="line", xref="paper", yref="paper", x0=px(x0 + 3), x1=px(x0 + 34), y0=py(LEG_Y), y1=py(LEG_Y),
                       line=dict(color=col, width=4)))
    annotations.append(dict(xref="paper", yref="paper", x=px(x0 + 40), y=py(LEG_Y), text=lab, showarrow=False,
                            xanchor="left", yanchor="middle", font=dict(family=FONT, size=18, color="#000000")))

annotations.append(dict(xref="paper", yref="paper", x=px(770), y=py(LEG_Y), text="Sun_angle", showarrow=False,
                        xanchor="left", yanchor="middle", font=dict(family=FONT, size=22, color="#000000")))
sq_c, di_c, tr_c = 906, 1008, 1111
shapes.append(dict(type="rect", xref="paper", yref="paper", x0=px(sq_c - 4), x1=px(sq_c + 4), y0=py(LEG_Y + 4), y1=py(LEG_Y - 4),
                   line=dict(color="#000000", width=1.5)))
shapes.append(dict(type="path", xref="paper", yref="paper",
                   path=f"M {px(di_c)},{py(LEG_Y - 6)} L {px(di_c + 6)},{py(LEG_Y)} L {px(di_c)},{py(LEG_Y + 6)} L {px(di_c - 6)},{py(LEG_Y)} Z",
                   line=dict(color="#000000", width=1.8)))
shapes.append(dict(type="path", xref="paper", yref="paper",
                   path=f"M {px(tr_c - 5.5)},{py(LEG_Y - 4.5)} L {px(tr_c + 5.5)},{py(LEG_Y - 4.5)} L {px(tr_c)},{py(LEG_Y + 5)} Z",
                   line=dict(color="#000000", width=1.8)))
for xl, lab in ((928, "class 1"), (1031, "class 2"), (1134, "class 3")):
    annotations.append(dict(xref="paper", yref="paper", x=px(xl), y=py(LEG_Y), text=lab, showarrow=False,
                            xanchor="left", yanchor="middle", font=dict(family=FONT, size=18, color="#000000")))

fig.update_layout(width=W, height=H, margin=dict(l=L, r=R, t=T, b=B),
                  plot_bgcolor="#FFFFFF", paper_bgcolor="#FFFFFF", showlegend=False,
                  font=dict(family=FONT), shapes=shapes, annotations=annotations)

fig.write_html("out.html", config={"displayModeBar": False},
               post_script="document.body.style.margin='0px';")
